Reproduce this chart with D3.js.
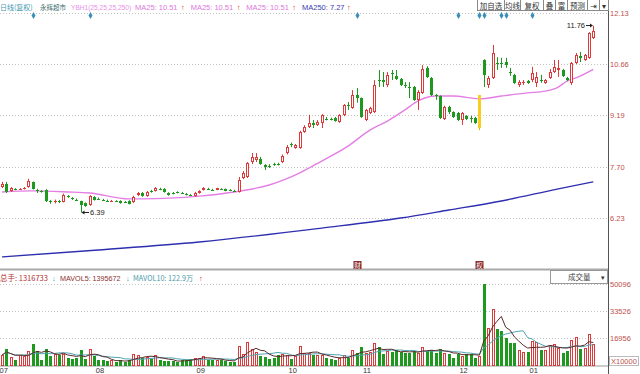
<!DOCTYPE html>
<html><head><meta charset="utf-8">
<script src="https://cdn.jsdelivr.net/npm/d3@7"></script>
<style>
body{margin:0;background:#fff;}
svg{display:block;font-family:"Liberation Sans",Arial,"Noto Sans CJK SC",sans-serif;}
</style></head><body>
<svg id="c" width="640" height="374"></svg>
<script>
const opens=[7.12,7.21,7.00,7.07,7.06,7.07,7.12,7.26,7.03,7.00,7.04,6.72,6.71,6.72,6.70,6.85,6.80,6.76,6.72,6.66,6.60,6.84,6.79,6.76,6.73,6.72,6.72,6.72,6.69,6.72,6.69,6.89,6.95,6.86,7.01,7.01,7.07,7.07,6.95,6.96,6.98,6.95,6.93,6.89,6.86,6.95,7.04,7.07,7.05,7.05,7.07,7.06,7.04,7.02,6.98,7.38,7.41,7.84,7.90,7.93,7.76,7.73,7.78,7.79,7.84,8.10,8.35,8.25,8.25,8.71,8.85,8.97,8.92,8.97,9.09,9.09,9.11,9.00,9.19,9.48,9.40,9.77,9.68,9.05,9.25,9.28,10.20,10.20,10.06,10.40,10.32,10.23,10.07,10.01,10.00,9.63,9.83,10.55,10.26,9.77,9.74,9.08,9.43,9.28,9.25,9.05,9.17,9.12,9.11,8.82,10.78,10.06,10.26,10.70,10.70,10.72,10.42,10.35,10.06,10.12,10.17,10.20,10.12,10.21,10.12,10.26,10.43,10.49,10.49,10.26,10.12,10.69,10.89,10.78,10.84,11.41];
const closes=[7.21,6.98,7.09,7.06,7.07,7.10,7.30,7.07,7.01,6.99,6.72,6.70,6.72,6.71,6.89,6.84,6.79,6.75,6.60,6.58,6.86,6.75,6.78,6.75,6.72,6.73,6.71,6.66,6.68,6.63,6.84,6.95,6.86,6.98,7.00,7.09,7.06,6.98,6.89,6.93,6.97,6.94,6.90,6.88,6.95,7.01,7.09,7.06,7.04,7.08,7.06,7.02,7.03,7.01,7.32,7.53,7.81,7.99,7.99,7.78,7.69,7.72,7.77,7.78,8.02,8.27,8.32,8.33,8.71,8.85,8.97,8.92,9.00,9.19,9.08,9.07,9.02,9.19,9.48,9.47,9.77,9.68,9.14,9.34,9.40,10.06,10.19,10.14,10.35,10.39,10.23,10.06,10.05,10.00,9.63,9.86,10.52,10.29,9.77,9.76,9.11,9.43,9.28,9.14,9.05,9.25,9.08,9.10,8.97,9.77,10.35,10.26,10.98,10.69,10.67,10.63,10.39,10.12,10.14,10.13,10.12,10.40,10.29,10.20,10.20,10.43,10.58,10.56,10.32,10.20,10.69,10.92,10.84,10.92,11.55,11.61];
const highs=[7.27,7.27,7.12,7.09,7.09,7.12,7.36,7.28,7.07,7.03,7.06,6.75,6.76,6.75,6.93,6.89,6.83,6.79,6.73,6.68,6.89,6.86,6.82,6.78,6.76,6.75,6.74,6.74,6.72,6.74,6.87,6.98,6.98,7.01,7.04,7.12,7.10,7.09,6.97,6.98,7.00,6.98,6.95,6.92,6.98,7.03,7.12,7.10,7.07,7.10,7.09,7.08,7.06,7.04,7.41,7.58,7.84,8.10,8.10,7.99,7.78,7.78,7.82,7.82,8.06,8.33,8.40,8.36,8.74,8.90,9.20,9.05,9.05,9.22,9.14,9.12,9.14,9.22,9.51,9.57,9.91,9.97,9.70,9.37,9.43,10.20,10.49,10.43,10.43,10.49,10.49,10.26,10.14,10.14,10.03,9.91,10.63,10.60,10.29,9.80,9.76,9.46,9.46,9.30,9.28,9.28,9.19,9.17,9.14,9.77,10.80,10.32,11.21,10.86,10.84,10.84,10.55,10.38,10.20,10.20,10.20,10.58,10.43,10.35,10.23,10.52,10.78,10.78,10.52,10.29,10.72,10.98,11.01,10.95,11.58,11.76];
const lows=[7.09,6.95,6.98,7.03,7.04,7.05,7.10,7.05,6.95,6.96,6.69,6.64,6.65,6.66,6.68,6.81,6.75,6.72,6.39,6.55,6.58,6.73,6.75,6.73,6.70,6.70,6.69,6.64,6.66,6.62,6.66,6.86,6.84,6.84,6.96,6.99,7.03,6.96,6.87,6.91,6.94,6.92,6.88,6.86,6.84,6.93,7.02,7.04,7.01,7.03,7.04,7.00,7.01,6.99,6.96,7.35,7.38,7.78,7.84,7.76,7.61,7.67,7.73,7.74,7.81,8.06,8.27,8.22,8.22,8.68,8.82,8.82,8.88,8.82,9.04,9.04,9.00,8.97,9.16,9.34,9.37,9.55,9.11,9.02,9.22,9.25,10.00,10.00,10.00,10.20,10.20,10.03,9.97,9.68,9.60,9.34,9.80,10.26,9.74,9.63,9.08,9.05,9.22,9.11,9.02,8.91,9.05,8.97,8.94,8.76,10.00,9.97,10.23,10.49,10.55,10.55,10.32,10.09,10.00,10.06,10.09,10.14,10.00,10.12,10.09,10.23,10.40,10.29,10.29,10.17,10.06,10.66,10.72,10.75,10.81,11.38];
const volumes=[6444,10126,5523,3375,6444,6137,8899,13195,8899,3375,10433,6137,7364,6751,7364,4910,3989,4910,9512,3989,10433,6137,3375,3375,2762,3375,2148,3375,2148,3375,7364,6444,4910,5523,4296,6444,3375,2762,2762,2762,2148,3375,3375,4296,4910,4910,6137,3375,3375,3375,3682,2762,2148,2148,12274,7364,14422,10433,8592,6137,5523,4296,4910,6751,7364,6751,4296,6137,12274,7978,7978,6751,6444,6444,4910,4296,3375,4910,6751,4910,9819,7671,11660,7978,8285,14115,11353,7364,8899,8285,9512,8285,7978,7978,8899,7978,11660,8899,9512,7978,10433,7978,7364,4910,7364,6137,7364,7364,4910,6137,50096,23014,34674,22400,21173,16877,13808,13808,9512,8592,8285,15036,14729,9512,9512,12888,13501,10740,7671,8899,15649,17490,10126,10740,19332,13167];
const ma25Idx=[0,7,15,20,29,32,45,53,61,68,73,79,84,88,92,95,99,103,109,114,120,124,127,129,131,135];
const ma25Val=[6.98,7.01,6.98,6.95,6.78,6.78,6.86,6.98,7.18,7.53,7.87,8.30,8.76,9.02,9.34,9.60,9.74,9.74,9.66,9.74,9.83,9.88,10.00,10.17,10.26,10.51];
const ma250Idx=[0,22,45,73,91,102,114,127,135];
const ma250Val=[5.11,5.31,5.54,5.94,6.23,6.46,6.72,7.07,7.27];
const priceTicks=[12.13,10.66,9.19,7.70,6.23];
const volTicks=[50096,33526,16956];
const monthLabels=['07','08','09','10','11','12','01'];
const monthIdx=[0,22,45,66,83,105,121];
const markerIdx=[7,20,81,104,109,110,114,115,121];
const eventIdx=[81,109];
const eventText=['财','权'];
const limitUpIdx=109;
const buttons=['加自选','均线','复权','叠','富','预测','⇥','▾'];

const svg=d3.select('#c');
const R='#dd3b3b', G='#1e981e', PINK='#e47ee4', BLUE='#2e2eb0', AX='#c0504d';
const N=closes.length;
const x=d3.scaleLinear().domain([0,N-1]).range([2,593.3]);
const y=d3.scaleLinear().domain([6.23,12.13]).range([218,13]);
const yv=d3.scaleLinear().domain([0,50096]).range([365.5,284.3]);
const PR=608;

// grid lines
svg.append('g').selectAll('line').data(priceTicks).join('line')
  .attr('x1',0).attr('x2',PR).attr('y1',d=>Math.round(y(d))+0.5).attr('y2',d=>Math.round(y(d))+0.5)
  .attr('stroke','#c4c4c4').attr('stroke-dasharray','1,2');
svg.append('g').selectAll('line').data(volTicks).join('line')
  .attr('x1',0).attr('x2',PR).attr('y1',d=>Math.round(yv(d))+0.5).attr('y2',d=>Math.round(yv(d))+0.5)
  .attr('stroke','#c4c4c4').attr('stroke-dasharray','1,2');

// separator and frames
svg.append('line').attr('x1',0).attr('x2',PR).attr('y1',269.5).attr('y2',269.5).attr('stroke','#aaa').attr('stroke-width',2);
svg.append('line').attr('x1',0).attr('x2',PR).attr('y1',366).attr('y2',366).attr('stroke','#999');
svg.append('line').attr('x1',PR+0.5).attr('x2',PR+0.5).attr('y1',0).attr('y2',374).attr('stroke','#555');

// right price axis
const ay=svg.append('g').attr('transform',`translate(${PR},0)`)
  .call(d3.axisRight(y).tickValues(priceTicks).tickSize(0).tickPadding(2).tickFormat(d3.format('.2f')));
ay.select('.domain').remove();
ay.selectAll('text').attr('fill',AX).attr('font-size',7.5);
const av=svg.append('g').attr('transform',`translate(${PR},0)`)
  .call(d3.axisRight(yv).tickValues(volTicks).tickSize(0).tickPadding(2).tickFormat(d3.format('d')));
av.select('.domain').remove();
av.selectAll('text').attr('fill',AX).attr('font-size',7.5);
svg.append('rect').attr('x',609.5).attr('y',356.5).attr('width',29).attr('height',9).attr('fill','#fff').attr('stroke','#bbb');
svg.append('text').attr('x',611).attr('y',364).attr('font-size',7.5).attr('fill',AX).text('X10000');

// bottom axis
const ax=svg.append('g').attr('transform','translate(0,366)')
  .call(d3.axisBottom(x).tickValues(monthIdx).tickSize(0).tickPadding(2).tickFormat((d,i)=>monthLabels[i]));
ax.select('.domain').remove();
ax.selectAll('text').attr('fill','#333').attr('font-size',7.5).attr('text-anchor','start').attr('dx',-3);

// MA lines
const ma25=ma25Idx.map((d,i)=>[d,ma25Val[i]]);
const ma250=ma250Idx.map((d,i)=>[d,ma250Val[i]]);
svg.append('path').datum(ma250).attr('d',d3.line().x(d=>x(d[0])).y(d=>y(d[1])).curve(d3.curveMonotoneX))
  .attr('fill','none').attr('stroke',BLUE).attr('stroke-width',1.4);
svg.append('path').datum(ma25).attr('d',d3.line().x(d=>x(d[0])).y(d=>y(d[1])).curve(d3.curveMonotoneX))
  .attr('fill','none').attr('stroke',PINK).attr('stroke-width',1.4);

// candles
const cg=svg.append('g');
for(let i=0;i<N;i++){
  const o=opens[i],c=closes[i],h=highs[i],l=lows[i];
  const cx=Math.round(x(i));
  const up=c>=o;
  const col= i===limitUpIdx ? '#e8a800' : (up?R:G);
  let t=Math.round(y(Math.max(o,c))), b=Math.round(y(Math.min(o,c)));
  if(b-t<1) b=t+1;
  cg.append('line').attr('x1',cx+0.5).attr('x2',cx+0.5).attr('y1',y(h)).attr('y2',y(l)).attr('stroke',col);
  if(i===limitUpIdx){
    cg.append('rect').attr('x',cx-1).attr('y',t).attr('width',3).attr('height',b-t).attr('fill','#f8cc20');
  } else if(up && b-t>1){
    cg.append('rect').attr('x',cx-0.5).attr('y',t+0.5).attr('width',2).attr('height',b-t-1).attr('fill','#fff').attr('stroke',col);
  } else {
    cg.append('rect').attr('x',cx-1).attr('y',t).attr('width',3).attr('height',b-t).attr('fill',col);
  }
}

// volume bars
const vg=svg.append('g');
for(let i=0;i<N;i++){
  const cx=Math.round(x(i));
  const up=closes[i]>=opens[i];
  const t=Math.round(yv(volumes[i])), b=Math.round(yv(0));
  if(up){
    vg.append('rect').attr('x',cx-0.5).attr('y',t+0.5).attr('width',2).attr('height',Math.max(b-t-1,1)).attr('fill','#fff').attr('stroke',R);
  } else {
    vg.append('rect').attr('x',cx-1).attr('y',t).attr('width',3).attr('height',b-t).attr('fill',G);
  }
}
function mavg(arr,n){return arr.map((d,i)=>{const s=arr.slice(Math.max(0,i-n+1),i+1);return d3.mean(s);});}
const mv5=mavg(volumes,5), mv10=mavg(volumes,10);
svg.append('path').datum(mv10).attr('d',d3.line().x((d,i)=>x(i)).y(d=>yv(d)))
  .attr('fill','none').attr('stroke','#4fa3b3').attr('stroke-width',1);
svg.append('path').datum(mv5).attr('d',d3.line().x((d,i)=>x(i)).y(d=>yv(d)))
  .attr('fill','none').attr('stroke','#5a2a2a').attr('stroke-width',1);

// header
const CJK='"Noto Sans CJK SC",sans-serif';
function seg(g,xx,yy,txt,col,fam,fs){
  return g.append('text').attr('x',xx).attr('y',yy).attr('fill',col).attr('font-family',fam||null).attr('font-size',fs||null).text(txt);
}
const hd=svg.append('g').attr('font-size',7.5);
seg(hd,0,10,'日线(复权)','#3f98ae',CJK,7);
seg(hd,40,10,'永辉超市','#3f6f6f',CJK,6.5);
seg(hd,71,10,'YBH1(25,25,25,250)','#e890e8',null,6.6);
[135,190.7,246.3].forEach(s=>{ seg(hd,s,10,'MA25: 10.51','#dc78dc'); seg(hd,s+46,10,'↑','#e02020'); });
seg(hd,302,10,'MA250: 7.27','#3a3ab0'); seg(hd,347,10,'↑','#e02020');

// volume header
const vh=svg.append('g').attr('font-size',7.5);
seg(vh,0,281,'总手: 1316733','#b03030',CJK); seg(vh,52,281,'↓','#2aa0b0');
seg(vh,60,281,'MAVOL5: 1395672','#8b2f2f',null,7.2); seg(vh,126,281,'↓','#2aa0b0');
seg(vh,133,281,'MAVOL10: 122.9万','#4a9aa8',CJK,7.2); seg(vh,199,281,'↑','#e02020');

// volume selector box
svg.append('rect').attr('x',550.5).attr('y',270.5).attr('width',57).attr('height',13).attr('fill','#fff').attr('stroke','#999');
svg.append('text').attr('x',568).attr('y',280).attr('font-size',7.5).attr('font-family',CJK).attr('fill','#444').text('成交量');
svg.append('text').attr('x',601).attr('y',280).attr('font-size',7).attr('fill','#333').text('▾');

// buttons
const bx=[477,504,520,543,555,567,587,599,608];
const bg=svg.append('g');
buttons.forEach((b,i)=>{
  bg.append('rect').attr('x',bx[i]+0.5).attr('y',-1).attr('width',bx[i+1]-bx[i]).attr('height',11.5).attr('fill','#fff').attr('stroke','#888');
  bg.append('text').attr('x',(bx[i]+bx[i+1])/2+0.5).attr('y',8.5).attr('text-anchor','middle').attr('font-size',7.5)
    .attr('font-family',CJK).attr('fill','#333').text(b);
});

// event markers (diamonds)
svg.append('g').selectAll('path').data(markerIdx).join('path')
  .attr('d',d3.symbol(d3.symbolDiamond,14)).attr('transform',d=>`translate(${Math.round(x(d))+0.5},15.5)`).attr('fill','#3a8fb8');
const eg=svg.append('g');
eventIdx.forEach((d,i)=>{
  const cx=Math.round(x(d));
  eg.append('rect').attr('x',cx-3.5).attr('y',261).attr('width',8).attr('height',8).attr('fill','#8a2a2a');
  eg.append('text').attr('x',cx+0.5).attr('y',267.5).attr('text-anchor','middle').attr('font-size',6.5).attr('font-family',CJK).attr('fill','#fff').text(eventText[i]);
});

// high / low annotations
const iMax=d3.maxIndex(highs), iMin=d3.minIndex(lows);
const hx=Math.round(x(iMax)), hy=Math.round(y(highs[iMax]));
svg.append('line').attr('x1',hx-7).attr('x2',hx-1).attr('y1',hy-0.5).attr('y2',hy-0.5).attr('stroke','#222');
svg.append('path').attr('d',`M${hx},${hy-0.5} l-3,-2 l0,4 z`).attr('fill','#222');
svg.append('text').attr('x',hx-8).attr('y',hy+2).attr('text-anchor','end').attr('font-size',7.5).attr('fill','#222').text(d3.format('.2f')(highs[iMax]));
const lx=Math.round(x(iMin)), ly=Math.round(y(lows[iMin]));
svg.append('line').attr('x1',lx+1).attr('x2',lx+8).attr('y1',ly+0.5).attr('y2',ly+0.5).attr('stroke','#222');
svg.append('path').attr('d',`M${lx+0.5},${ly+0.5} l3,-2 l0,4 z`).attr('fill','#222');
svg.append('text').attr('x',lx+9).attr('y',ly+3).attr('font-size',7.5).attr('fill','#222').text(d3.format('.2f')(lows[iMin]));
</script>
</body></html>
